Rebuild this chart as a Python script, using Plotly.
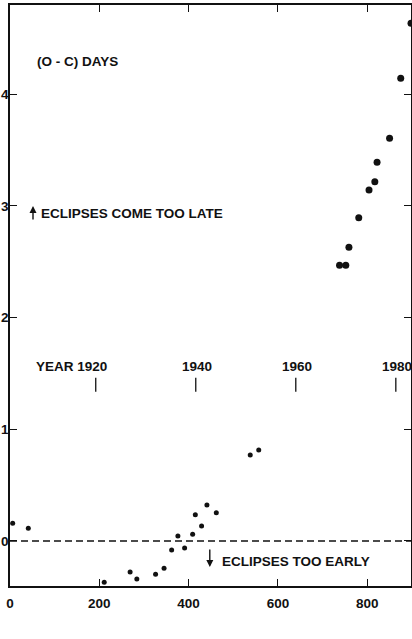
import plotly.graph_objects as go

# ---- data ----
n_early = [6, 41, 211, 269, 284, 326, 345, 362, 376, 391, 409, 415, 429, 441, 462, 538, 557]
oc_early = [0.158, 0.114, -0.370, -0.278, -0.340, -0.298, -0.244, -0.081, 0.045, -0.063,
            0.060, 0.235, 0.134, 0.322, 0.253, 0.770, 0.815]
n_late = [738, 752, 759, 781, 804, 817, 822, 850, 875, 898]
oc_late = [2.468, 2.468, 2.629, 2.894, 3.142, 3.217, 3.390, 3.605, 4.143, 4.635]

year_labels = ["YEAR 1920", "1940", "1960", "1980"]
year_n = [192, 416, 640, 864]

x_ticks = [0, 200, 400, 600, 800]
y_ticks = [0, 1, 2, 3, 4]

# ---- style ----
INK = "#111111"
FONT = dict(family="Liberation Sans", size=13.5, color=INK, weight="bold")
YEAR_ROW = 1.40

fig = go.Figure()

fig.add_trace(go.Scatter(
    x=n_early, y=oc_early, mode="markers",
    marker=dict(color=INK, size=5), cliponaxis=False, hoverinfo="skip"))
fig.add_trace(go.Scatter(
    x=n_late, y=oc_late, mode="markers",
    marker=dict(color=INK, size=7), cliponaxis=False, hoverinfo="skip"))

# year scale ticks
fig.add_trace(go.Scatter(
    x=year_n, y=[YEAR_ROW] * len(year_n), mode="markers",
    marker=dict(symbol="line-ns", size=10, color=INK, line=dict(width=1.3, color=INK)),
    hoverinfo="skip"))

for i, (lab, n) in enumerate(zip(year_labels, year_n)):
    if i == 0:
        fig.add_annotation(x=n, y=YEAR_ROW, text=lab, showarrow=False,
                           xanchor="right", yanchor="middle", xshift=13, yshift=18, font=FONT)
    else:
        fig.add_annotation(x=n, y=YEAR_ROW, text=lab, showarrow=False,
                           xanchor="center", yanchor="middle", xshift=1, yshift=18, font=FONT)

# zero line (dashed)
fig.add_shape(type="line", xref="paper", x0=0, x1=1, yref="y", y0=0, y1=0,
              line=dict(color=INK, width=1.3, dash="7px,4px"))

# texts
fig.add_annotation(x=56, y=4.29, text="(O - C) DAYS", showarrow=False,
                   xanchor="left", yanchor="middle", font=FONT)
fig.add_annotation(x=65, y=2.936, text="ECLIPSES COME TOO LATE", showarrow=False,
                   xanchor="left", yanchor="middle", font=FONT)
fig.add_annotation(x=51.5, y=3.0, text="", showarrow=True, ax=0, ay=15,
                   arrowhead=2, arrowsize=1, arrowwidth=1.4, arrowcolor=INK)
fig.add_annotation(x=470, y=-0.188, text="ECLIPSES TOO EARLY", showarrow=False,
                   xanchor="left", yanchor="middle", font=FONT)
fig.add_annotation(x=447.4, y=-0.233, text="", showarrow=True, ax=0, ay=-19,
                   arrowhead=2, arrowsize=1, arrowwidth=1.4, arrowcolor=INK)
fig.add_annotation(x=440, y=-0.68, text="N", showarrow=False,
                   xanchor="center", yanchor="middle", font=FONT)
fig.add_annotation(x=514.5, y=-0.68, text="", showarrow=True, ax=-26, ay=0,
                   arrowhead=2, arrowsize=1, arrowwidth=1.4, arrowcolor=INK)

axis_common = dict(showline=True, linewidth=1.5, linecolor=INK, mirror="ticks",
                   ticks="inside", tickcolor=INK, tickwidth=1.3, automargin=False,
                   showgrid=False, zeroline=False, tickfont=FONT)

fig.update_xaxes(range=[0, 898], tickvals=x_ticks, ticklen=7, ticklabelstandoff=4, **axis_common)
fig.update_yaxes(range=[-0.403, 4.799], tickvals=y_ticks, ticklen=7, ticklabelstandoff=-3, **axis_common)

fig.update_layout(width=412, height=639, margin=dict(l=10, r=1, t=5, b=53),
                  plot_bgcolor="white", paper_bgcolor="white", showlegend=False,
                  font=FONT)

fig.write_html("out.html")
